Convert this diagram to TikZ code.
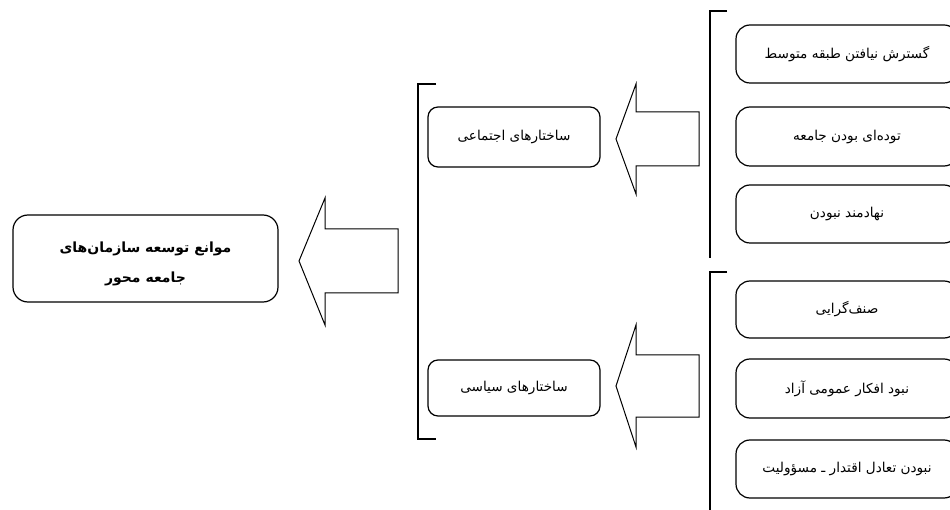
\documentclass[tikz,border=0pt]{standalone}
\usepackage{fontspec}
\newfontfamily\arabicfont[Script=Arabic]{DejaVu Sans}
\TeXXeTstate=1
\begin{document}
\begin{tikzpicture}[x=1pt,y=-1pt,
  box/.style={draw, line width=1.2pt, rounded corners=12pt, inner sep=0pt, font=\arabicfont\fontsize{13.6}{16}\selectfont},
  blockarrow/.style={draw, line width=1pt, line join=miter, fill=white},
  brack/.style={draw, line width=1.1pt}]
\useasboundingbox (0,0) rectangle (950,510);
\clip (0,0) rectangle (950,510);
% left title box
\node[box, rounded corners=15pt, minimum width=265pt, minimum height=87pt] (goal) at (145.5,258.5) {};
\node[align=center, inner sep=0pt, font=\arabicfont\bfseries\fontsize{14}{30}\selectfont] (goaltext) at ([yshift=-5pt]goal.center)
  {\beginR موانع توسعه سازمان^^^^200cهای\endR\\ \beginR جامعه محور\endR};
% middle boxes
\node[box, rounded corners=10pt, minimum width=172pt, minimum height=60pt] (soc) at (514,137) {\beginR ساختارهای اجتماعی\endR};
\node[box, rounded corners=10pt, minimum width=172pt, minimum height=56pt] (pol) at (514,388) {\beginR ساختارهای سیاسی\endR};
% right boxes
\node[box, rounded corners=14pt, minimum width=222pt, minimum height=58pt] (r1) at (847,54) {\beginR گسترش نیافتن طبقه متوسط\endR};
\node[box, rounded corners=14pt, minimum width=222pt, minimum height=59pt] (r2) at (847,136.5) {\beginR توده^^^^200cای بودن جامعه\endR};
\node[box, rounded corners=14pt, minimum width=222pt, minimum height=58pt] (r3) at (847,214) {\beginR نهادمند نبودن\endR};
\node[box, rounded corners=14pt, minimum width=222pt, minimum height=57pt] (r4) at (847,309.5) {\beginR صنف^^^^200cگرایی\endR};
\node[box, rounded corners=14pt, minimum width=222pt, minimum height=59pt] (r5) at (847,388.5) {\beginR نبود افکار عمومی آزاد\endR};
\node[box, rounded corners=14pt, minimum width=222pt, minimum height=58pt] (r6) at (847,469) {\beginR نبودن تعادل اقتدار ـ مسؤولیت\endR};
% block arrows
\draw[blockarrow] (299,261) -- (325,198) -- (325,229) -- (398,229) -- (398,293) -- (325,293) -- (325,325) -- cycle;
\draw[blockarrow] (616,139) -- (636,84) -- (636,112) -- (699,112) -- (699,166) -- (636,166) -- (636,194) -- cycle;
\draw[blockarrow] (616,386) -- (636,325) -- (636,355) -- (699,355) -- (699,417) -- (636,417) -- (636,447) -- cycle;
% brackets
\draw[brack] (436,84) -- (418,84) -- (418,439) -- (436,439);
\draw[brack] (727,11) -- (710,11) -- (710,258);
\draw[brack] (727,272) -- (710,272) -- (710,515);
\end{tikzpicture}
\end{document}
